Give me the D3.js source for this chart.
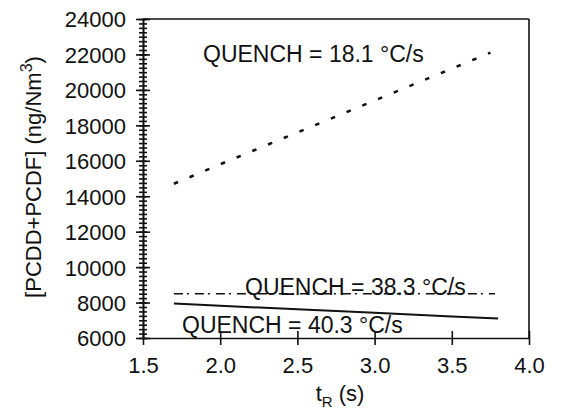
<!DOCTYPE html>
<html>
<head>
<meta charset="utf-8">
<script src="https://cdn.jsdelivr.net/npm/d3@7"></script>
<style>
  body { margin: 0; background: #fff; }
  svg { display: block; font-family: "Liberation Sans", Arial, sans-serif; }
  .axis path, .axis line { stroke: #111; stroke-width: 1.6; }
  .axis text { font-size: 22px; fill: #111; }
</style>
</head>
<body>
<div id="chart"></div>
<script>
// residence time (s)
var tR18 = [1.7, 2.0, 2.5, 3.0, 3.5, 3.75];
var pc18 = [14700, 15800, 17600, 19400, 21200, 22100];
var tR38 = [1.7, 2.5, 3.0, 3.78];
var pc38 = [8500, 8500, 8500, 8500];
var tR40 = [1.7, 2.0, 2.5, 3.0, 3.5, 3.8];
var pc40 = [7950, 7820, 7620, 7420, 7220, 7100];

var xTicks = [1.5, 2.0, 2.5, 3.0, 3.5, 4.0];
var yTicks = [6000, 8000, 10000, 12000, 14000, 16000, 18000, 20000, 22000, 24000];
var yMinor = d3.range(6000, 24001, 250);

var series = [
  {name: "QUENCH = 18.1 °C/s", t: tR18, v: pc18, dash: "4.5,12.5", width: 2.6, lx: 203, ly: 62},
  {name: "QUENCH = 38.3 °C/s", t: tR38, v: pc38, dash: "9,4,2,6", width: 1.5, lx: 245, ly: 295},
  {name: "QUENCH = 40.3 °C/s", t: tR40, v: pc40, dash: null, width: 2, lx: 182, ly: 333}
];

var W = 562, H = 416;
var svg = d3.select("#chart").append("svg").attr("width", W).attr("height", H);
svg.append("rect").attr("width", W).attr("height", H).attr("fill", "#fff");

var x = d3.scaleLinear().domain([1.5, 4.0]).range([143, 529]);
var y = d3.scaleLinear().domain([6000, 24000]).range([338, 19]);

// frame: top and right
svg.append("line").attr("x1", x(1.5)).attr("x2", x(4)).attr("y1", y(24000)).attr("y2", y(24000))
  .attr("stroke", "#111").attr("stroke-width", 1.6);
svg.append("line").attr("x1", x(4)).attr("x2", x(4)).attr("y1", y(24000)).attr("y2", y(6000))
  .attr("stroke", "#111").attr("stroke-width", 1.6);

// minor y ticks, crossing the axis
var gMinor = svg.append("g").attr("class", "axis")
  .attr("transform", "translate(" + x(1.5) + ",0)")
  .call(d3.axisLeft(y).tickValues(yMinor).tickFormat("").tickSizeOuter(0));
gMinor.selectAll(".tick line").attr("x1", 4).attr("x2", -4);

// major y ticks
var gy = svg.append("g").attr("class", "axis")
  .attr("transform", "translate(" + x(1.5) + ",0)")
  .call(d3.axisLeft(y).tickValues(yTicks).tickFormat(d3.format("d")).tickSizeOuter(0).tickPadding(11));
gy.selectAll(".tick line").attr("x1", 7).attr("x2", -7);
gy.selectAll(".tick text").attr("dy", "0.36em");

// x axis
var gx = svg.append("g").attr("class", "axis")
  .attr("transform", "translate(0," + y(6000) + ")")
  .call(d3.axisBottom(x).tickValues(xTicks).tickFormat(d3.format(".1f")).tickSizeOuter(0).tickPadding(13));
gx.selectAll(".tick line").attr("y1", -7).attr("y2", 7);
gx.selectAll(".tick text").attr("dy", "0.71em");

// lines
var line = d3.line().x(function(d){ return x(d[0]); }).y(function(d){ return y(d[1]); });
series.forEach(function(s){
  var pts = s.t.map(function(t, i){ return [t, s.v[i]]; });
  svg.append("path")
    .datum(pts)
    .attr("d", line)
    .attr("fill", "none")
    .attr("stroke", "#111")
    .attr("stroke-width", s.width)
    .attr("stroke-dasharray", s.dash);
  svg.append("text")
    .attr("x", s.lx).attr("y", s.ly)
    .attr("font-size", 23)
    .attr("fill", "#111")
    .text(s.name);
});

// axis titles
var xl = svg.append("text").attr("x", 340).attr("y", 401).attr("text-anchor", "middle")
  .attr("font-size", 22).attr("fill", "#111");
xl.append("tspan").text("t");
xl.append("tspan").attr("font-size", 15).attr("dy", 6).text("R");
xl.append("tspan").attr("dy", -6).text(" (s)");

var yl = svg.append("text").attr("transform", "translate(41,177) rotate(-90)")
  .attr("text-anchor", "middle").attr("font-size", 22).attr("fill", "#111");
yl.append("tspan").text("[PCDD+PCDF] (ng/Nm");
yl.append("tspan").attr("font-size", 16).attr("dy", -9).text("3");
yl.append("tspan").attr("dy", 9).text(")");
</script>
</body>
</html>
